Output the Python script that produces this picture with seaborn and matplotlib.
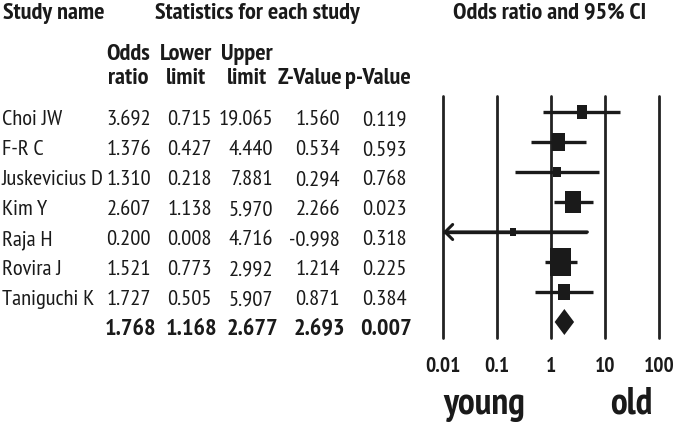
import numpy as np
import pandas as pd
import matplotlib
matplotlib.use("Agg")
import matplotlib.pyplot as plt
import seaborn as sns

studies = ["Choi JW", "F-R C", "Juskevicius D", "Kim Y", "Raja H", "Rovira J", "Taniguchi K"]
odds = [3.692, 1.376, 1.310, 2.607, 0.200, 1.521, 1.727]
lower = [0.715, 0.427, 0.218, 1.138, 0.008, 0.773, 0.505]
upper = [19.065, 4.440, 7.881, 5.970, 4.716, 2.992, 5.907]
zval = [1.560, 0.534, 0.294, 2.266, -0.998, 1.214, 0.871]
pval = [0.119, 0.593, 0.768, 0.023, 0.318, 0.225, 0.384]
weights = [8.1, 15.8, 5.2, 20.7, 2.9, 35.7, 11.6]
summary = dict(odds=1.768, lower=1.168, upper=2.677, z=2.693, p=0.007)
xticks = [0.01, 0.1, 1, 10, 100]
xticklabels = ["0.01", "0.1", "1", "10", "100"]

sns.set_theme(style="white")
plt.rcParams["font.family"] = ["PT Sans Narrow", "Archivo Narrow", "Liberation Sans", "DejaVu Sans"]

W, H = 675, 422
fig = plt.figure(figsize=(W / 100, H / 100), dpi=100)
fig.patch.set_facecolor("white")

# text layer in pixel coordinates
tx = fig.add_axes([0, 0, 1, 1])
tx.set_xlim(0, W)
tx.set_ylim(H, 0)
tx.axis("off")

ink = "#1a1a1a"
fs = 16.2
hfs = 17.5

tx.text(3, 19, "Study name", fontsize=hfs, fontweight="bold", color=ink, va="baseline", ha="left")
tx.text(257, 19, "Statistics for each study", fontsize=hfs, fontweight="bold", color=ink, va="baseline", ha="center")
tx.text(550, 19, "Odds ratio and 95% CI", fontsize=hfs, fontweight="bold", color=ink, va="baseline", ha="center")

headers = [("Odds", "ratio", 128), ("Lower", "limit", 186), ("Upper", "limit", 247),
           ("", "Z-Value", 310), ("", "p-Value", 378)]
for l1, l2, cx in headers:
    if l1:
        tx.text(cx, 60, l1, fontsize=hfs, fontweight="bold", color=ink, va="baseline", ha="center")
    tx.text(cx, 84, l2, fontsize=hfs, fontweight="bold", color=ink, va="baseline", ha="center")

col_right = [151, 212, 273, 340, 407]
row0, dy = 112, 30
for i, name in enumerate(studies):
    yb = row0 + dy * i + 13
    tx.text(2, yb, name, fontsize=fs, color=ink, va="baseline", ha="left")
    vals = [odds[i], lower[i], upper[i], zval[i], pval[i]]
    for xr, v in zip(col_right, vals):
        tx.text(xr, yb, f"{v:.3f}", fontsize=fs, color=ink, va="baseline", ha="right")
yb = row0 + dy * len(studies) + 13
for xr, v in zip(col_right, [summary["odds"], summary["lower"], summary["upper"], summary["z"], summary["p"]]):
    tx.text(xr + 5, yb, f"{v:.3f}", fontsize=17.5, fontweight="bold", color=ink, va="baseline", ha="right")

tx.text(484, 414, "young", fontsize=27, fontweight="bold", color=ink, va="baseline", ha="center")
tx.text(631, 414, "old", fontsize=27, fontweight="bold", color=ink, va="baseline", ha="center")

# forest axes
top_px, bot_px, left_px, right_px = 96, 338, 443, 659
ax = fig.add_axes([left_px / W, 1 - bot_px / H, (right_px - left_px) / W, (bot_px - top_px) / H])
ax.set_facecolor("none")
ax.set_xscale("log")
ax.set_xlim(xticks[0], xticks[-1])
ax.set_ylim((bot_px - row0) / dy, (top_px - row0) / dy)
for s in ax.spines.values():
    s.set_visible(False)
ax.set_yticks([])
ax.set_xticks(xticks)
ax.set_xticklabels(xticklabels, fontsize=15.5, fontweight="bold", color=ink)
ax.tick_params(axis="x", length=0, pad=14)
ax.minorticks_off()
ax.grid(False)

for xv in xticks:
    ax.axvline(xv, color="#222222", lw=2.0, clip_on=False, zorder=1)

rows = np.arange(len(studies))
df = pd.DataFrame(dict(study=studies, odds=odds, lower=lower, upper=upper, weight=weights, row=rows))

ax.hlines(df["row"], df["lower"], df["upper"], color=ink, lw=2.4, zorder=2)
for _, r in df.iterrows():
    if r["lower"] < xticks[0]:
        ax.annotate("", xy=(xticks[0], r["row"]), xytext=(r["upper"], r["row"]),
                    arrowprops=dict(arrowstyle="->,head_length=0.45,head_width=0.45", lw=2.2, color=ink,
                                    shrinkA=0, shrinkB=0), zorder=3)

box = [(-0.75, -1), (0.75, -1), (0.75, 1), (-0.75, 1), (-0.75, -1)]
sns.scatterplot(data=df, x="odds", y="row", size="weight", sizes=(33, 406), marker=box,
                color=ink, edgecolor=ink, linewidth=0, legend=False, ax=ax, zorder=4)
ax.set_xlabel("")
ax.set_ylabel("")

srow = len(studies)
h = 13 / dy
ax.fill([summary["lower"], summary["odds"], summary["upper"], summary["odds"]],
        [srow, srow - h, srow, srow + h], color=ink, zorder=4, lw=0)

fig.savefig("out.png", dpi=100, facecolor="white")
